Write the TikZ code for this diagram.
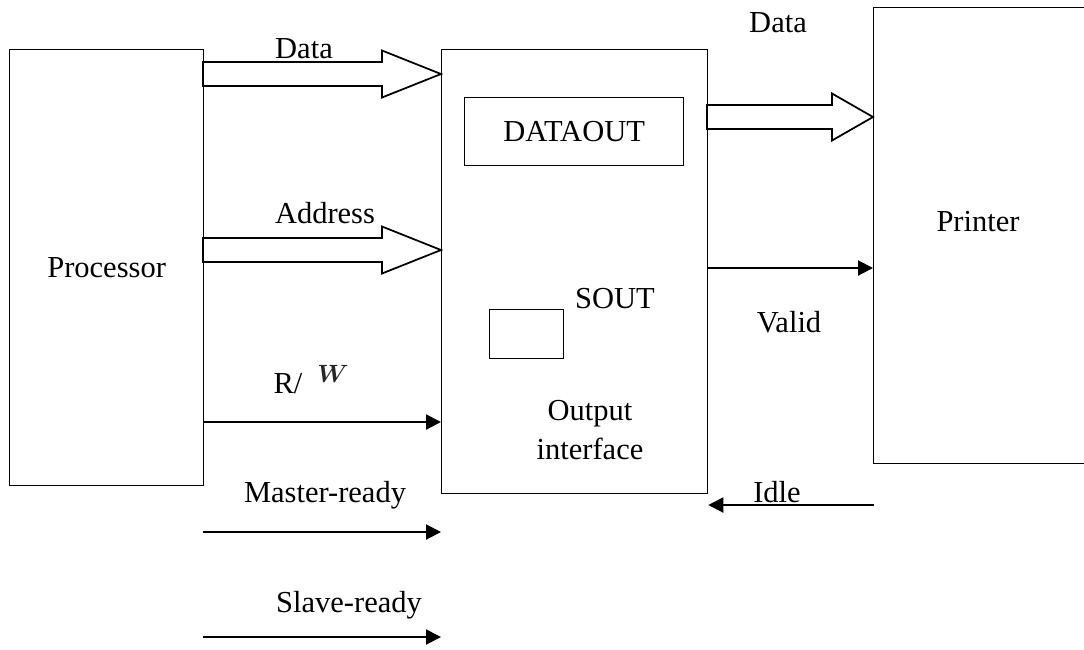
\documentclass[tikz,border=0pt]{standalone}
\usepackage{fontspec}
\setmainfont{Liberation Serif}
\usetikzlibrary{arrows.meta, positioning, calc}

% wide bus arrow: tail point, tip point, head length
\newcommand{\busarrow}[3]{%
  \draw[bus] ($(#1)+(0,-12)$) -- ($(#2)+(-#3,-12)$) -- ($(#2)+(-#3,-23.5)$) -- (#2)
    -- ($(#2)+(-#3,23.5)$) -- ($(#2)+(-#3,12)$) -- ($(#1)+(0,12)$) -- cycle;}

\tikzset{
  box/.style={draw, line width=0.5pt, anchor=north west, inner sep=0pt},
  bus/.style={draw, line width=0.7pt, fill=white, line join=miter},
  sig/.style={line width=0.8pt, -{Triangle[length=6pt, width=6pt]}},
  lbl/.style={font=\fontsize{12.2}{14}\selectfont, inner sep=0pt, anchor=base}
}

\begin{document}
\begin{tikzpicture}[x=0.4pt, y=-0.4pt]
  \useasboundingbox (0,0) rectangle (1084,649);

  % main blocks
  \node[box, minimum width=77.6pt, minimum height=174.4pt, font=\fontsize{12.2}{14}\selectfont] (proc) at (9,49) {Processor};
  \node[box, minimum width=106.4pt, minimum height=177.6pt] (iface) at (441,49) {};
  \node[box, minimum width=86pt, minimum height=182.4pt] (printer) at (873,7) {};
  \node[lbl, anchor=center] (printertxt) at (978,222) {Printer};

  % registers inside the interface
  \node[box, minimum width=87.6pt, minimum height=27.2pt, font=\fontsize{12.2}{14}\selectfont] (dataout) at (464,97) {DATAOUT};
  \node[box, minimum width=29.6pt, minimum height=19.6pt] (sout) at (489,309) {};
  \node[lbl] (souttxt) at (615,308) {SOUT};
  \node[lbl] (outtxt) at (590,420) {Output};
  \node[lbl] (ifacetxt) at (590,459) {interface};

  % bus connections
  \coordinate (dbus) at (203,74);
  \coordinate (dbustip) at (dbus -| iface.west);
  \busarrow{dbus}{dbustip}{59}
  \node[lbl] (dlbl) at (304,58) {Data};

  \coordinate (abus) at (203,250);
  \coordinate (abustip) at (abus -| iface.west);
  \busarrow{abus}{abustip}{59}
  \node[lbl] (albl) at (325,223) {Address};

  \coordinate (pbus) at (707,117);
  \coordinate (pbustip) at (pbus -| printer.west);
  \busarrow{pbus}{pbustip}{41}
  \node[lbl] (plbl) at (778,32) {Data};

  % control lines
  \coordinate (rw) at (203,422);
  \draw[sig] (rw) -- (rw -| iface.west);
  \node[lbl, anchor=base west] (rwlbl) at (273,393) {R/\hspace{6pt}\raisebox{4.4pt}{\textcolor{black!85}{\fontsize{10}{12}\selectfont\boldmath$W$}}};

  \coordinate (mr) at (203,532);
  \draw[sig] (mr) -- (mr -| iface.west);
  \node[lbl] (mrlbl) at (325,502) {Master-ready};

  \coordinate (sr) at (203,637);
  \draw[sig] (sr) -- (sr -| iface.west);
  \node[lbl] (srlbl) at (349,612) {Slave-ready};

  \coordinate (vd) at (707,268);
  \draw[sig] (vd) -- (vd -| printer.west);
  \node[lbl] (vdlbl) at (789,332) {Valid};

  \coordinate (idl) at (874,505);
  \draw[sig] (idl) -- (idl -| iface.east);
  \node[lbl] (idllbl) at (777,502) {Idle};
\end{tikzpicture}
\end{document}
